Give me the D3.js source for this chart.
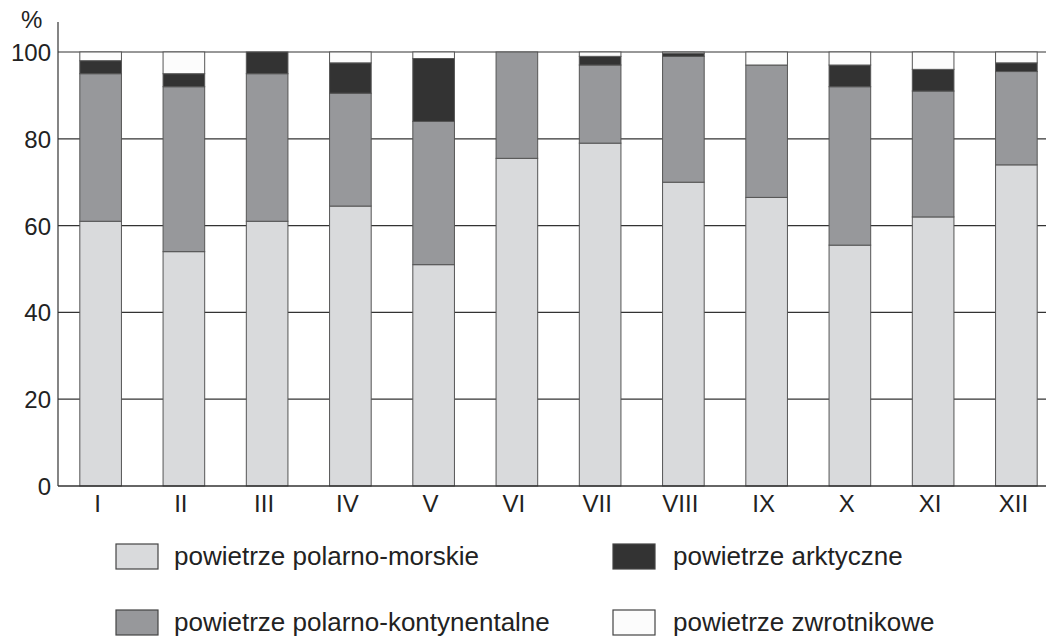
<!DOCTYPE html>
<html><head><meta charset="utf-8">
<script src="https://cdn.jsdelivr.net/npm/d3@7"></script>
<style>body{margin:0;background:#fff}svg{display:block}text{font-family:"Liberation Sans",Arial,sans-serif;fill:#222}</style>
</head><body><svg id="c" width="1046" height="638"></svg>
<script>
const months = ["I","II","III","IV","V","VI","VII","VIII","IX","X","XI","XII"];
const polarnoMorskie =      [61, 54, 61, 64.5, 51, 75.5, 79, 70, 66.5, 55.5, 62, 74];
const polarnoKontynentalne = [34, 38, 34, 26, 33, 24.5, 18, 29, 30.5, 36.5, 29, 21.5];
const arktyczne =           [3, 3, 5, 7, 14.5, 0, 2, 0.7, 0, 5, 5, 2];
const zwrotnikowe =         [2, 5, 0, 2.5, 1.5, 0, 1, 0.3, 3, 3, 4, 2.5];
const yTicks = [0, 20, 40, 60, 80, 100];
const seriesNames = ["powietrze polarno-morskie","powietrze polarno-kontynentalne","powietrze arktyczne","powietrze zwrotnikowe"];
const seriesColors = ["#d9dadc","#97989b","#333333","#fcfcfc"];

const svg = d3.select("#c");
const x = d3.scaleBand().domain(months).range([59, 1058]).paddingInner(0.5).paddingOuter(0.25);
const y = d3.scaleLinear().domain([0, 100]).range([486, 52]);

// gridlines
svg.append("g").selectAll("line").data(yTicks.filter(d => d > 0)).join("line")
  .attr("x1", 58).attr("x2", 1046).attr("y1", d => y(d)).attr("y2", d => y(d))
  .attr("stroke", "#333").attr("stroke-width", 1.2);

// stacked bars
const rows = months.map((m, i) => ({m, a: polarnoMorskie[i], b: polarnoKontynentalne[i], c: arktyczne[i], d: zwrotnikowe[i]}));
const stack = d3.stack().keys(["a","b","c","d"])(rows);
const g = svg.append("g");
stack.forEach((layer, k) => {
  g.append("g").selectAll("rect").data(layer.filter(s => s[1] - s[0] > 0)).join("rect")
    .attr("x", s => x(s.data.m)).attr("width", x.bandwidth())
    .attr("y", s => y(s[1])).attr("height", s => y(s[0]) - y(s[1]))
    .attr("fill", seriesColors[k]).attr("stroke", "#555").attr("stroke-width", 1);
});

// axes
svg.append("line").attr("x1", 58).attr("x2", 58).attr("y1", 22).attr("y2", 486).attr("stroke", "#333").attr("stroke-width", 1.2);
svg.append("line").attr("x1", 58).attr("x2", 1046).attr("y1", 486).attr("y2", 486).attr("stroke", "#333").attr("stroke-width", 1.5);

svg.append("g").selectAll("text").data(yTicks).join("text")
  .attr("x", 51).attr("y", d => y(d) + 9).attr("text-anchor", "end")
  .attr("font-size", 24).text(d => d);
svg.append("text").attr("x", 21).attr("y", 28).attr("font-size", 24).text("%");

svg.append("g").selectAll("text").data(months).join("text")
  .attr("x", d => x(d) + x.bandwidth() / 2 - 3).attr("y", 512).attr("text-anchor", "middle")
  .attr("font-size", 24).text(d => d);

// legend
const legPos = [[116, 544, 174], [116, 610, 174], [613, 544, 673], [613, 610, 673]];
seriesNames.forEach((n, k) => {
  const [sx, sy, tx] = legPos[k];
  svg.append("rect").attr("x", sx).attr("y", sy).attr("width", 42).attr("height", 25)
    .attr("fill", seriesColors[k]).attr("stroke", "#444").attr("stroke-width", 1.2);
  svg.append("text").attr("x", tx).attr("y", sy + 21).attr("font-size", 26).text(n);
});
</script></body></html>
